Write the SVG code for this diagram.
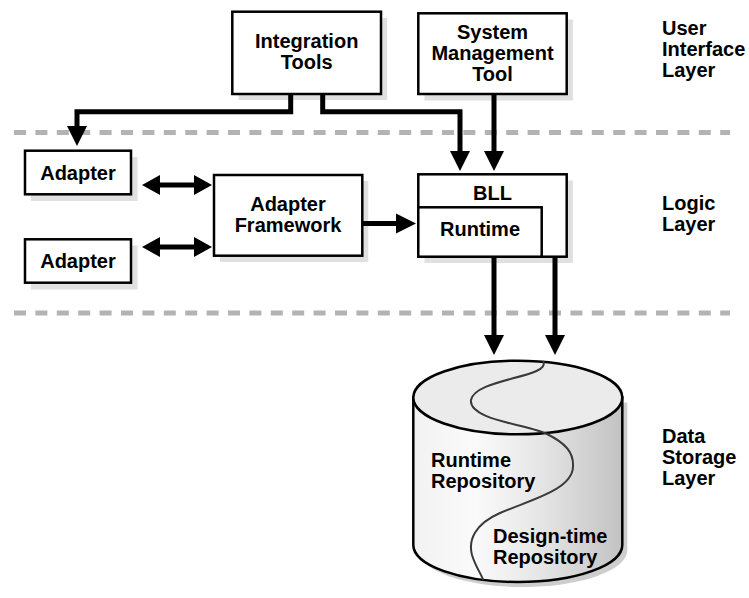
<svg xmlns="http://www.w3.org/2000/svg" width="749" height="598" viewBox="0 0 749 598">
<defs>
<style>
.box{fill:#fff;stroke:#000;stroke-width:2.5}
.shadow{fill:#e0e0e0}
.t{font-family:"Liberation Sans",Arial,sans-serif;font-weight:bold;font-size:20px;fill:#000}
.c{text-anchor:middle}
.line{fill:none;stroke:#000;stroke-width:5}
.head{fill:#000}
.dash{fill:none;stroke:#b3b3b3;stroke-width:5;stroke-dasharray:12 9.4}
</style>
<linearGradient id="body" x1="413" y1="0" x2="623" y2="0" gradientUnits="userSpaceOnUse">
<stop offset="0" stop-color="#f2f2f2"/>
<stop offset="0.3" stop-color="#fafafa"/>
<stop offset="0.6" stop-color="#e6e6e6"/>
<stop offset="1" stop-color="#c2c2c2"/>
</linearGradient>
</defs>
<rect width="749" height="598" fill="#fff"/>

<g id="layers">
<line class="dash" x1="14" y1="132.5" x2="730" y2="132.5"/>
<line class="dash" x1="14" y1="313" x2="730" y2="313"/>
<text class="t" x="662" y="35">User</text>
<text class="t" x="662" y="56">Interface</text>
<text class="t" x="662" y="77">Layer</text>
<text class="t" x="662" y="210">Logic</text>
<text class="t" x="662" y="231">Layer</text>
<text class="t" x="662" y="443">Data</text>
<text class="t" x="662" y="464">Storage</text>
<text class="t" x="662" y="485">Layer</text>
</g>

<g id="integration-tools">
<rect class="shadow" x="238.5" y="18" width="148.7" height="82"/>
<rect class="box" x="232.3" y="11.7" width="148.7" height="82.3"/>
<text class="t c" x="306.7" y="47.5">Integration</text>
<text class="t c" x="306.7" y="68.5">Tools</text>
</g>

<g id="system-management-tool">
<rect class="shadow" x="424.5" y="19.5" width="148.4" height="81"/>
<rect class="box" x="418.3" y="13.3" width="148.4" height="80.7"/>
<text class="t c" x="492.5" y="38.5">System</text>
<text class="t c" x="492.5" y="59.5">Management</text>
<text class="t c" x="492.5" y="80.5">Tool</text>
</g>

<g id="adapter-1">
<rect class="shadow" x="31" y="157" width="106.5" height="44"/>
<rect class="box" x="25" y="150.7" width="106" height="43.6"/>
<text class="t c" x="78" y="180">Adapter</text>
</g>

<g id="adapter-2">
<rect class="shadow" x="31" y="245.5" width="106.5" height="44"/>
<rect class="box" x="25" y="239.3" width="106" height="43.4"/>
<text class="t c" x="78" y="267.7">Adapter</text>
</g>

<g id="adapter-framework">
<rect class="shadow" x="220" y="181" width="148.3" height="81"/>
<rect class="box" x="214" y="175" width="148.3" height="80.7"/>
<text class="t c" x="288" y="211.2">Adapter</text>
<text class="t c" x="288" y="232.2">Framework</text>
</g>

<g id="bll">
<rect class="shadow" x="424.5" y="180.5" width="148.4" height="82.5"/>
<rect class="box" x="418.3" y="174.3" width="148.4" height="82.4"/>
<rect class="box" x="418.3" y="207.3" width="123.4" height="49.4"/>
<text class="t c" x="492.5" y="200">BLL</text>
<text class="t c" x="480" y="236">Runtime</text>
</g>

<g id="repository">
<path d="M418.3,402.5 V550 A104.5,37 0 0 0 627.3,550 V402.5 Z" fill="#cdcdcd"/>
<path d="M413.3,397.5 V545 A104.5,37 0 0 0 622.3,545 V397.5 Z" fill="url(#body)" stroke="#000" stroke-width="2.5"/>
<ellipse cx="517.8" cy="397.5" rx="104.5" ry="36.8" fill="#ebebeb" stroke="#000" stroke-width="2.5"/>
<path d="M543,361 C552,378 475,378 471,400 C468,420 530,425 547,434 C565,443 574,452 573,467 C572,490 530,500 500,513 C475,524 468,540 472,555 C476,568 482,575 483,580" fill="none" stroke="#3a3a3a" stroke-width="2"/>
<text class="t" x="431" y="467">Runtime</text>
<text class="t" x="431" y="488">Repository</text>
<text class="t" x="493" y="543">Design-time</text>
<text class="t" x="493" y="564">Repository</text>
</g>

<g id="connectors">
<path class="line" d="M290.7,94 V111.7 H77 V128"/>
<polygon class="head" points="67,126 87,126 77,146"/>
<path class="line" d="M322.7,94 V111.7 H460 V153"/>
<polygon class="head" points="450,151 470,151 460,171"/>
<path class="line" d="M494,94 V153"/>
<polygon class="head" points="484,151 504,151 494,171"/>
<line class="line" x1="158" y1="185" x2="196" y2="185"/>
<polygon class="head" points="142,185 160,175 160,195"/>
<polygon class="head" points="212,185 194,175 194,195"/>
<line class="line" x1="158" y1="247" x2="196" y2="247"/>
<polygon class="head" points="142,247 160,237 160,257"/>
<polygon class="head" points="212,247 194,237 194,257"/>
<line class="line" x1="362.3" y1="223.5" x2="398" y2="223.5"/>
<polygon class="head" points="396,213.5 396,233.5 416,223.5"/>
<line class="line" x1="494" y1="256.7" x2="494" y2="337"/>
<polygon class="head" points="484,335 504,335 494,355"/>
<line class="line" x1="555" y1="256.7" x2="555" y2="337"/>
<polygon class="head" points="545,335 565,335 555,355"/>
</g>
</svg>
